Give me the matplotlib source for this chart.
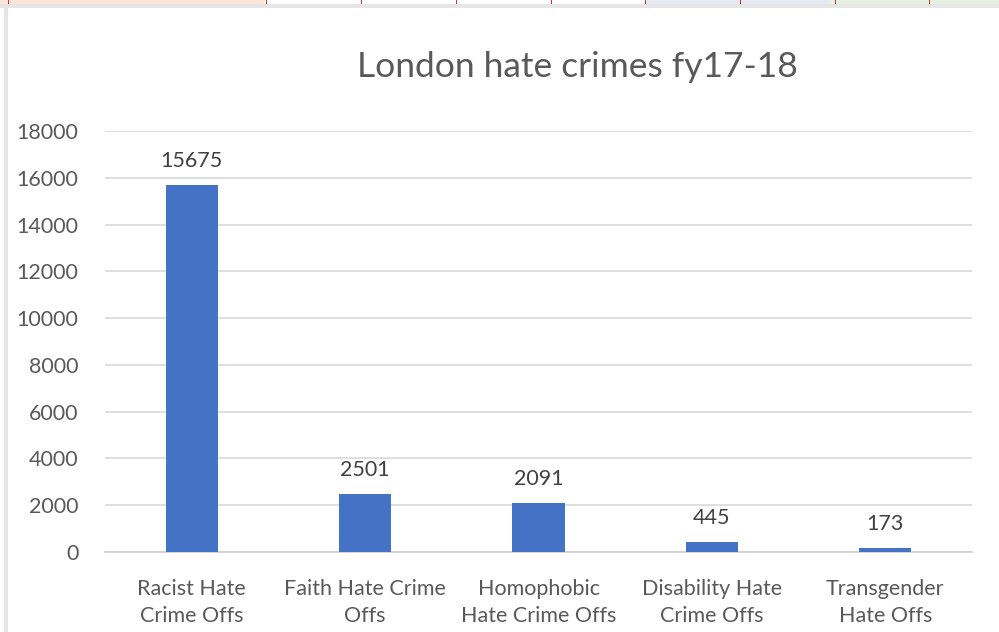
import matplotlib
matplotlib.use("Agg")
import matplotlib.pyplot as plt
from matplotlib.patches import Rectangle

categories = ["Racist Hate\nCrime Offs", "Faith Hate Crime\nOffs", "Homophobic\nHate Crime Offs",
              "Disability Hate\nCrime Offs", "Transgender\nHate Offs"]
values = [15675, 2501, 2091, 445, 173]
yticks = [0, 2000, 4000, 6000, 8000, 10000, 12000, 14000, 16000, 18000]
title = "London hate crimes fy17-18"

plt.rcParams['font.family'] = ['Lato', 'DejaVu Sans']

W, H = 999, 632
fig = plt.figure(figsize=(W/100, H/100), dpi=100)
fig.patch.set_facecolor('white')

# screenshot frame decorations
fig.add_artist(Rectangle((0, 1 - 4/H), 265/W, 4/H, transform=fig.transFigure, color='#fde5dc', lw=0))
fig.add_artist(Rectangle((645/W, 1 - 4/H), 185/W, 4/H, transform=fig.transFigure, color='#e8eaf3', lw=0))
fig.add_artist(Rectangle((830/W, 1 - 4/H), 169/W, 4/H, transform=fig.transFigure, color='#e6f1e3', lw=0))
for xx in [8, 266, 361, 456, 551, 645, 740, 835, 929]:
    fig.add_artist(Rectangle((xx/W, 1 - 4/H), 1/W, 4/H, transform=fig.transFigure, color='#e03030', lw=0))
fig.add_artist(Rectangle((0, 1 - 8/H), 1, 4/H, transform=fig.transFigure, color='#e6e6e6', lw=0))
fig.add_artist(Rectangle((4/W, 0), 4/W, 1 - 8/H, transform=fig.transFigure, color='#e6e6e6', lw=0))

ax = fig.add_axes([105/W, (H - 552)/H, (972 - 105)/W, (552 - 131)/H])
x = list(range(len(categories)))
bars = ax.bar(x, values, width=0.3, color='#4472C4', zorder=3)
ax.set_xlim(-0.5, len(categories) - 0.5)
ax.set_ylim(0, 18000)
ax.set_yticks(yticks)
ax.set_yticklabels([str(v) for v in yticks])
ax.set_xticks(x)
ax.set_xticklabels(categories, fontsize=15.5, color='#595959', linespacing=1.42)
ax.tick_params(axis='y', length=0, pad=19, labelsize=15.5, labelcolor='#595959')
ax.tick_params(axis='x', length=0, pad=19.5)
ax.yaxis.grid(True, color='#d9d9d9', lw=1.2, zorder=0)
for s in ['top', 'right', 'left']:
    ax.spines[s].set_visible(False)
ax.spines['bottom'].set_color('#d0d0d0')
ax.spines['bottom'].set_linewidth(1.2)

for xi, v in zip(x, values):
    ax.annotate(str(v), (xi, v), xytext=(0, 10), textcoords='offset points',
                ha='center', va='bottom', fontsize=15.5, color='#404040')

fig.text(577/W, 1 - 67/H, title, ha='center', va='center', fontsize=25.5, color='#595959')

fig.savefig('out.png', dpi=100, facecolor='white')
